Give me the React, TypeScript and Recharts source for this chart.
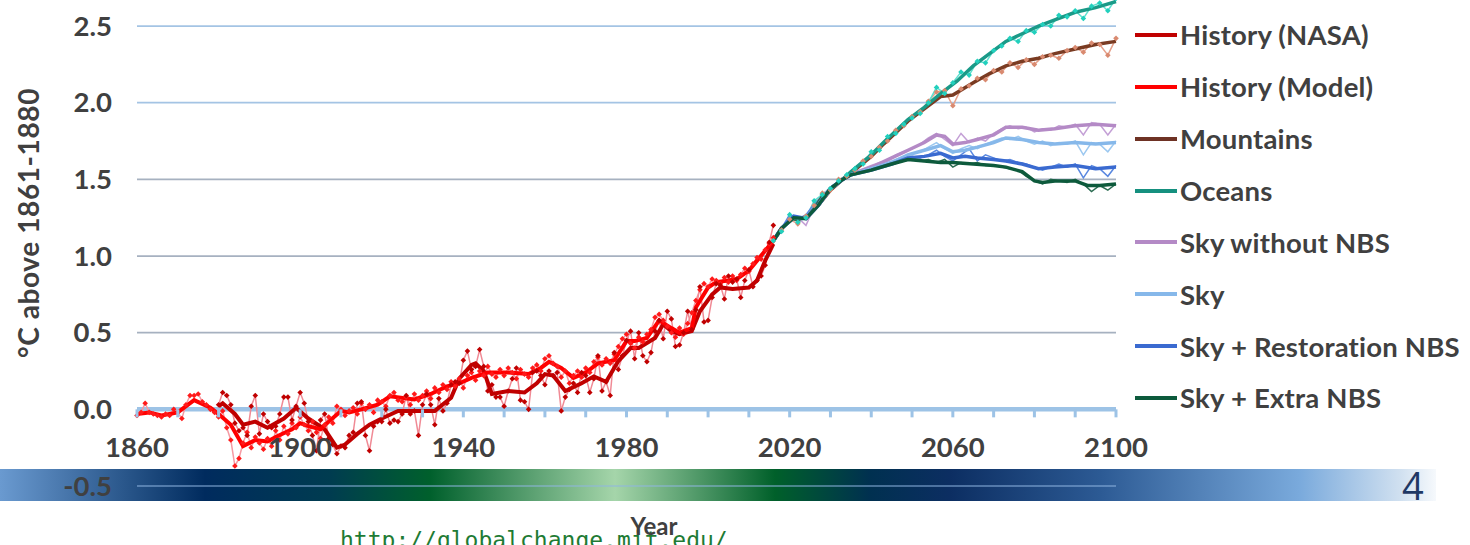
import React from 'react';
import { LineChart, Line, XAxis, YAxis, ReferenceLine, Label } from 'recharts';

// ---- data ----
type Pt = { year: number; v: number };

const annual = (start: number, step: number, values: number[]): Pt[] =>
  values.map((v, i) => ({ year: start + i * step, v }));
const pairs = (arr: [number, number][]): Pt[] => arr.map(([year, v]) => ({ year, v }));

const MAJOR_YEARS = [1860, 1900, 1940, 1980, 2020, 2060, 2100];
const MINOR_YEARS = [
  1860, 1870, 1880, 1890, 1900, 1910, 1920, 1930, 1940, 1950, 1960, 1970, 1980,
  1990, 2000, 2010, 2020, 2030, 2040, 2050, 2060, 2070, 2080, 2090, 2100,
];
const Y_TICKS = [-0.5, 0, 0.5, 1.0, 1.5, 2.0, 2.5];

// annual values, history
const nasaAnnual = [
  0.03, 0.11, 0.09, 0.03, -0.09, -0.14, -0.12, -0.17, 0.02, 0.09,
  -0.16, -0.03, -0.08, -0.12, -0.11, -0.03, 0.08, 0.08, -0.07, 0.02,
  0.11, 0.04, -0.08, -0.17, -0.27, -0.07, -0.03, -0.19, -0.23, -0.29,
  -0.24, -0.25, -0.17, -0.15, 0.04, 0.05, -0.17, -0.27, -0.11, -0.08,
  -0.08, 0.0, -0.09, -0.07, -0.08, -0.03, 0.09, -0.03, -0.01, -0.17,
  0.03, 0.1, 0.03, -0.1, 0.07, -0.01, 0.04, 0.16, 0.18, 0.17,
  0.32, 0.38, 0.26, 0.28, 0.39, 0.28, 0.12, 0.16, 0.08, 0.08,
  0.02, 0.12, 0.2, 0.27, 0.06, 0.05, 0.0, 0.24, 0.25, 0.22,
  0.16, 0.25, 0.22, 0.24, -0.01, 0.08, 0.13, 0.17, 0.11, 0.24,
  0.22, 0.11, 0.2, 0.35, 0.12, 0.18, 0.09, 0.37, 0.26, 0.35,
  0.45, 0.51, 0.33, 0.5, 0.35, 0.31, 0.37, 0.51, 0.58, 0.46,
  0.64, 0.59, 0.41, 0.42, 0.5, 0.64, 0.52, 0.65, 0.8, 0.57,
  0.58, 0.73, 0.82, 0.81, 0.72, 0.87, 0.83, 0.85, 0.73, 0.84,
  0.91, 0.8, 0.84, 0.87, 0.94, 1.09, 1.2,
];
const modelAnnual = [
  -0.04, -0.02, 0.04, -0.02, -0.03, -0.04, -0.05, -0.03, -0.04, 0.0,
  -0.02, -0.06, 0.03, 0.09, 0.09, 0.1, 0.05, 0.03, 0.0, -0.02,
  -0.05, -0.01, -0.12, -0.2, -0.37, -0.32, -0.22, -0.15, -0.25, -0.18,
  -0.22, -0.26, -0.19, -0.24, -0.14, -0.2, -0.11, -0.16, -0.09, -0.12,
  -0.05, -0.1, -0.14, -0.08, -0.15, -0.19, -0.1, -0.05, -0.09, 0.02,
  0.0, -0.04, -0.01, 0.01, -0.03, 0.04, 0.0, 0.03, -0.02, 0.06,
  0.05, 0.02, 0.09, 0.11, 0.06, 0.05, 0.08, 0.03, 0.1, 0.06,
  0.09, 0.12, 0.07, 0.14, 0.11, 0.16, 0.13, 0.18, 0.15, 0.2,
  0.14, 0.22, 0.24, 0.19, 0.25, 0.22, 0.28, 0.23, 0.21, 0.26,
  0.22, 0.27, 0.24, 0.2, 0.26, 0.23, 0.21, 0.27, 0.29, 0.25,
  0.33, 0.35, 0.3, 0.28, 0.21, 0.25, 0.17, 0.22, 0.25, 0.21,
  0.27, 0.24, 0.31, 0.34, 0.29, 0.33, 0.3, 0.36, 0.41, 0.46,
  0.49, 0.43, 0.4, 0.47, 0.44, 0.49, 0.52, 0.6, 0.62, 0.58,
  0.54, 0.5, 0.47, 0.53, 0.49, 0.56, 0.63, 0.71, 0.78, 0.82,
  0.8, 0.85, 0.84, 0.82, 0.86, 0.83, 0.87, 0.84, 0.88, 0.92,
  0.9, 0.95, 0.99, 0.98, 1.04, 1.08, 1.12,
];

// smoothed history
const nasaSmooth: [number, number][] = [
  [1880, 0.02], [1881, 0.04], [1884, -0.03], [1886, -0.1], [1889, -0.08], [1892, -0.12],
  [1896, -0.06], [1899, 0.01], [1902, -0.06], [1906, -0.13], [1909, -0.25], [1911, -0.23],
  [1914, -0.16], [1917, -0.1], [1920, -0.06], [1924, -0.01], [1929, -0.01], [1933, -0.01],
  [1937, 0.075], [1939, 0.2], [1942, 0.29], [1943, 0.3], [1945, 0.25], [1947, 0.1],
  [1951, 0.12], [1955, 0.11], [1958, 0.17], [1960, 0.23], [1962, 0.22], [1965, 0.12],
  [1969, 0.17], [1972, 0.215], [1975, 0.18], [1978, 0.315], [1981, 0.4], [1983, 0.4],
  [1987, 0.465], [1989, 0.555], [1991, 0.51], [1993, 0.49], [1996, 0.51], [1998, 0.64],
  [2001, 0.75], [2003, 0.795], [2006, 0.785], [2010, 0.795], [2012, 0.84], [2014, 0.97],
  [2016, 1.08],
];
const modelSmooth: [number, number][] = [
  [1860, -0.03], [1863, -0.02], [1866, -0.04], [1870, -0.02], [1874, 0.06], [1878, 0.01],
  [1880, -0.03], [1883, -0.1], [1886, -0.24], [1889, -0.2], [1892, -0.21], [1894, -0.18],
  [1898, -0.13], [1900, -0.09], [1902, -0.11], [1905, -0.13], [1907, -0.08], [1910, -0.01],
  [1912, -0.02], [1915, 0.0], [1919, 0.03], [1922, 0.085], [1928, 0.065], [1932, 0.1],
  [1936, 0.15], [1939, 0.17], [1942, 0.205], [1946, 0.24], [1951, 0.24], [1956, 0.23],
  [1959, 0.27], [1961, 0.31], [1964, 0.27], [1967, 0.205], [1970, 0.24], [1973, 0.3],
  [1977, 0.32], [1980, 0.445], [1982, 0.445], [1985, 0.465], [1988, 0.58], [1991, 0.53],
  [1993, 0.5], [1996, 0.53], [1997, 0.665], [2000, 0.795], [2002, 0.83], [2005, 0.84],
  [2007, 0.85], [2010, 0.905], [2012, 0.97], [2014, 1.035], [2016, 1.1],
];

// smoothed scenarios
const mountainsSmooth: [number, number][] = [
  [2016, 1.1], [2018, 1.18], [2021, 1.25], [2024, 1.245], [2027, 1.33], [2030, 1.43],
  [2033, 1.5], [2035, 1.54], [2040, 1.65], [2043, 1.73], [2049, 1.88], [2053, 1.96],
  [2057, 2.04], [2060, 2.05], [2065, 2.13], [2069, 2.19], [2073, 2.24], [2077, 2.27],
  [2081, 2.29], [2085, 2.32], [2090, 2.35], [2095, 2.38], [2100, 2.4],
];
const oceansSmooth: [number, number][] = [
  [2016, 1.1], [2018, 1.18], [2021, 1.25], [2024, 1.245], [2027, 1.33], [2030, 1.44],
  [2033, 1.5], [2035, 1.55], [2040, 1.66], [2043, 1.74], [2049, 1.89], [2053, 1.97],
  [2057, 2.06], [2061, 2.14], [2065, 2.24], [2069, 2.32], [2073, 2.4], [2077, 2.45],
  [2081, 2.5], [2085, 2.54], [2090, 2.59], [2095, 2.62], [2100, 2.66],
];
const skyNoNbsSmooth: [number, number][] = [
  [2016, 1.1], [2018, 1.18], [2021, 1.25], [2024, 1.245], [2027, 1.33], [2030, 1.44],
  [2033, 1.5], [2035, 1.53], [2038, 1.56], [2041, 1.59], [2045, 1.64], [2049, 1.69],
  [2053, 1.74], [2056, 1.79], [2058, 1.78], [2060, 1.73], [2063, 1.74], [2066, 1.76],
  [2070, 1.79], [2073, 1.84], [2077, 1.84], [2081, 1.82], [2085, 1.83], [2090, 1.85],
  [2095, 1.86], [2100, 1.85],
];
const skySmooth: [number, number][] = [
  [2016, 1.1], [2018, 1.18], [2021, 1.25], [2024, 1.245], [2027, 1.33], [2030, 1.44],
  [2033, 1.5], [2035, 1.53], [2040, 1.57], [2045, 1.61], [2049, 1.66], [2053, 1.69],
  [2057, 1.72], [2060, 1.68], [2063, 1.69], [2066, 1.71], [2070, 1.74], [2073, 1.77],
  [2077, 1.76], [2081, 1.74], [2085, 1.73], [2090, 1.74], [2095, 1.73], [2100, 1.74],
];
const restorationSmooth: [number, number][] = [
  [2016, 1.1], [2018, 1.18], [2021, 1.26], [2024, 1.245], [2027, 1.33], [2030, 1.44],
  [2033, 1.5], [2035, 1.53], [2040, 1.56], [2045, 1.6], [2049, 1.64], [2053, 1.65],
  [2057, 1.67], [2060, 1.64], [2063, 1.65], [2066, 1.64], [2070, 1.63], [2073, 1.62],
  [2077, 1.6], [2081, 1.57], [2085, 1.58], [2090, 1.59], [2095, 1.57], [2100, 1.58],
];
const extraSmooth: [number, number][] = [
  [2016, 1.1], [2018, 1.18], [2021, 1.25], [2024, 1.245], [2027, 1.33], [2030, 1.44],
  [2033, 1.5], [2035, 1.53], [2040, 1.56], [2045, 1.6], [2049, 1.63], [2053, 1.62],
  [2057, 1.61], [2060, 1.61], [2065, 1.6], [2070, 1.59], [2073, 1.58], [2077, 1.55],
  [2080, 1.49], [2082, 1.48], [2085, 1.49], [2090, 1.49], [2093, 1.46], [2096, 1.46],
  [2100, 1.47],
];

// noisy scenario runs, every 2 years from 2016
const mountainsRaw = [
  1.1, 1.17, 1.24, 1.21, 1.26, 1.33, 1.41, 1.43, 1.5, 1.52, 1.56, 1.62, 1.65, 1.71, 1.75,
  1.82, 1.85, 1.91, 1.94, 2.01, 2.07, 2.08, 1.98, 2.09, 2.11, 2.16, 2.15, 2.21, 2.2, 2.26,
  2.23, 2.28, 2.25, 2.3, 2.31, 2.29, 2.34, 2.36, 2.33, 2.39, 2.38, 2.31, 2.42,
];
const oceansRaw = [
  1.1, 1.16, 1.27, 1.22, 1.25, 1.36, 1.4, 1.44, 1.49, 1.53, 1.57, 1.6, 1.68, 1.69, 1.78,
  1.8, 1.86, 1.9, 1.93, 2.0, 2.1, 2.06, 2.13, 2.2, 2.18, 2.27, 2.26, 2.34, 2.37, 2.42,
  2.4, 2.47, 2.46, 2.51, 2.5, 2.57, 2.56, 2.6, 2.55, 2.63, 2.65, 2.6, 2.68,
];
const skyNoNbsRaw = [
  1.1, 1.19, 1.23, 1.25, 1.2, 1.32, 1.39, 1.44, 1.49, 1.52, 1.55, 1.57, 1.59, 1.61, 1.62,
  1.66, 1.68, 1.7, 1.73, 1.77, 1.8, 1.76, 1.72, 1.8, 1.74, 1.77, 1.75, 1.8, 1.83, 1.85,
  1.83, 1.84, 1.81, 1.83, 1.82, 1.85, 1.84, 1.86, 1.79, 1.87, 1.86, 1.79, 1.86,
];
const skyRaw = [
  1.1, 1.17, 1.25, 1.24, 1.26, 1.33, 1.4, 1.45, 1.48, 1.52, 1.54, 1.56, 1.58, 1.59, 1.61,
  1.63, 1.65, 1.67, 1.68, 1.71, 1.74, 1.7, 1.67, 1.7, 1.72, 1.7, 1.73, 1.75, 1.77, 1.76,
  1.78, 1.75, 1.73, 1.75, 1.72, 1.74, 1.73, 1.75, 1.66, 1.74, 1.73, 1.68, 1.75,
];
const restorationRaw = [
  1.1, 1.18, 1.27, 1.24, 1.27, 1.34, 1.39, 1.44, 1.48, 1.51, 1.54, 1.55, 1.57, 1.58, 1.59,
  1.62, 1.63, 1.65, 1.64, 1.66, 1.69, 1.65, 1.62, 1.66, 1.7, 1.62, 1.66, 1.64, 1.62, 1.63,
  1.61, 1.6, 1.58, 1.56, 1.58, 1.6, 1.58, 1.6, 1.51, 1.59, 1.57, 1.52, 1.59,
];
const extraRaw = [
  1.1, 1.17, 1.24, 1.23, 1.25, 1.32, 1.4, 1.43, 1.49, 1.52, 1.54, 1.56, 1.57, 1.58, 1.6,
  1.61, 1.62, 1.63, 1.62, 1.63, 1.61, 1.63, 1.58, 1.61, 1.6, 1.61, 1.59, 1.59, 1.58, 1.57,
  1.56, 1.52, 1.49, 1.47, 1.5, 1.49, 1.48, 1.5, 1.47, 1.42, 1.46, 1.43, 1.47,
];

const LEGEND = [
  { name: 'History (NASA)', color: '#c00000' },
  { name: 'History (Model)', color: '#ff0000' },
  { name: 'Mountains', color: '#6e3224' },
  { name: 'Oceans', color: '#15907f' },
  { name: 'Sky without NBS', color: '#b48ac6' },
  { name: 'Sky', color: '#86b8ea' },
  { name: 'Sky + Restoration NBS', color: '#3a6ad0' },
  { name: 'Sky + Extra NBS', color: '#0d5a3c' },
];

// ---- layout ----
const W = 1470;
const H = 545;
const PLOT_LEFT = 137;
const PLOT_RIGHT = 1116;
const PLOT_H = 486;
const Y_MIN = -0.5;
const Y_MAX = 2.67;
const ZERO_OFFSET = (PLOT_H * (0 - Y_MIN)) / (Y_MAX - Y_MIN);

const FONT = 'Lato, "Open Sans", sans-serif';
const TEXT = '#404040';
const AXIS_BLUE = '#9dc3e6';

const YearTick = (props: any) => {
  const { x, y, payload } = props;
  const axisY = y - ZERO_OFFSET;
  return (
    <g>
      <line x1={x} x2={x} y1={axisY} y2={axisY + 8} stroke={AXIS_BLUE} strokeWidth={3} />
      {MAJOR_YEARS.includes(payload.value) && (
        <text x={x} y={y - 29} textAnchor="middle" fontFamily={FONT} fontWeight={700} fontSize={27.5} fill={TEXT}>
          {payload.value}
        </text>
      )}
    </g>
  );
};

const diamond = (color: string, r: number) => (p: any) => {
  const { cx, cy, index } = p;
  if (cx == null || cy == null) return <g key={index} />;
  return (
    <path key={index} d={`M${cx},${cy - r}L${cx + r},${cy}L${cx},${cy + r}L${cx - r},${cy}Z`} fill={color} />
  );
};

const gridColor = (v: number) => (v >= 2 ? '#a4c4e4' : '#a6b1c0');

export default function App() {
  return (
    <div style={{ position: 'absolute', left: 0, top: 0, width: W, height: H, overflow: 'hidden', background: '#fff' }}>
      {/* slide band */}
      <div
        style={{
          position: 'absolute',
          left: 0,
          top: 469,
          width: 1436,
          height: 32,
          background:
            'linear-gradient(to right, #6a9ad0 0px, #002b5e 205px, #003c50 330px, #00602c 430px, #a5d5aa 615px, #00602a 775px, #003050 870px, #0c2e62 950px, #2c5a94 1100px, #7aaadc 1300px, #d0e0f0 1400px, #f6f9fc 1436px)',
        }}
      />
      <div
        style={{
          position: 'absolute',
          left: 1402,
          top: 464,
          fontFamily: '"Open Sans", sans-serif',
          fontSize: 38,
          color: '#1f3864',
          lineHeight: '42px',
        }}
      >
        4
      </div>
      <div
        style={{
          position: 'absolute',
          left: 340,
          top: 526,
          fontFamily: '"DejaVu Sans Mono", monospace',
          fontSize: 23,
          color: '#1e7b34',
          lineHeight: '28px',
          whiteSpace: 'nowrap',
        }}
      >
        http://globalchange.mit.edu/
      </div>

      <div style={{ position: 'absolute', left: 0, top: 0 }}>
        <LineChart width={W} height={H} margin={{ top: 0, right: W - PLOT_RIGHT, bottom: 0, left: 0 }}>
          <XAxis
            dataKey="year"
            type="number"
            domain={[1860, 2100]}
            ticks={MINOR_YEARS}
            interval={0}
            height={H - PLOT_H}
            axisLine={false}
            tickLine={false}
            tickSize={0}
            tickMargin={0}
            tick={<YearTick />}
          >
            <Label
              content={() => (
                <text x={654} y={535} textAnchor="middle" fontFamily={FONT} fontWeight={700} fontSize={24} fill={TEXT}>
                  Year
                </text>
              )}
            />
          </XAxis>
          <YAxis
            type="number"
            domain={[Y_MIN, Y_MAX]}
            allowDataOverflow
            ticks={Y_TICKS}
            interval={0}
            width={PLOT_LEFT}
            axisLine={false}
            tickLine={false}
            tickSize={0}
            tickMargin={25}
            tickFormatter={(v: number) => v.toFixed(1)}
            tick={{ fontFamily: FONT, fontWeight: 700, fontSize: 27.5, fill: TEXT }}
          >
            <Label
              content={() => (
                <text
                  x={39}
                  y={223}
                  transform="rotate(-90 39 223)"
                  textAnchor="middle"
                  fontFamily={FONT}
                  fontWeight={700}
                  fontSize={28}
                  letterSpacing={0.6}
                  fill={TEXT}
                >
                  °C above 1861-1880
                </text>
              )}
            />
          </YAxis>

          {[0.5, 1.0, 1.5, 2.0, 2.5].map((v) => (
            <ReferenceLine key={v} y={v} stroke={gridColor(v)} strokeWidth={1.8} />
          ))}
          <ReferenceLine y={-0.5} stroke="#8fb6e2" strokeWidth={1.2} />
          <ReferenceLine y={0} stroke={AXIS_BLUE} strokeWidth={4.5} />

          {/* annual history with markers */}
          <Line data={annual(1860, 1, modelAnnual)} dataKey="v" stroke="#f59aa3" strokeWidth={1.5}
            dot={diamond('#ff1a1a', 2.8)} isAnimationActive={false} />
          <Line data={annual(1880, 1, nasaAnnual)} dataKey="v" stroke="#f08a95" strokeWidth={1.5}
            dot={diamond('#c00000', 2.8)} isAnimationActive={false} />
          <Line data={pairs(nasaSmooth)} dataKey="v" stroke="#c00000" strokeWidth={4} dot={false} isAnimationActive={false} />
          <Line data={pairs(modelSmooth)} dataKey="v" stroke="#ff0000" strokeWidth={4} dot={false} isAnimationActive={false} />

          {/* scenario runs */}
          <Line data={annual(2016, 2, mountainsRaw)} dataKey="v" stroke="#e6a08a" strokeWidth={1.5}
            dot={diamond('#d98a70', 2.8)} isAnimationActive={false} />
          <Line data={annual(2016, 2, oceansRaw)} dataKey="v" stroke="#5ee0d0" strokeWidth={1.5}
            dot={diamond('#22d0bd', 2.8)} isAnimationActive={false} />
          <Line data={annual(2016, 2, skyNoNbsRaw)} dataKey="v" stroke="#c4a0d6" strokeWidth={1.5} dot={false} isAnimationActive={false} />
          <Line data={annual(2016, 2, skyRaw)} dataKey="v" stroke="#9cc8f0" strokeWidth={1.5} dot={false} isAnimationActive={false} />
          <Line data={annual(2016, 2, restorationRaw)} dataKey="v" stroke="#5a88e0" strokeWidth={1.5} dot={false} isAnimationActive={false} />
          <Line data={annual(2016, 2, extraRaw)} dataKey="v" stroke="#2c6c52" strokeWidth={1.5} dot={false} isAnimationActive={false} />

          <Line data={pairs(mountainsSmooth)} dataKey="v" stroke="#7a3b22" strokeWidth={3.5} dot={false} isAnimationActive={false} />
          <Line data={pairs(oceansSmooth)} dataKey="v" stroke="#1a9a88" strokeWidth={3.5} dot={false} isAnimationActive={false} />
          <Line data={pairs(skyNoNbsSmooth)} dataKey="v" stroke="#b48ac6" strokeWidth={3.5} dot={false} isAnimationActive={false} />
          <Line data={pairs(skySmooth)} dataKey="v" stroke="#86b8ea" strokeWidth={3.5} dot={false} isAnimationActive={false} />
          <Line data={pairs(restorationSmooth)} dataKey="v" stroke="#3a6ad0" strokeWidth={3.5} dot={false} isAnimationActive={false} />
          <Line data={pairs(extraSmooth)} dataKey="v" stroke="#0d5a3c" strokeWidth={3.5} dot={false} isAnimationActive={false} />
        </LineChart>
      </div>

      {/* legend */}
      <div style={{ position: 'absolute', left: 1135, top: 9 }}>
        {LEGEND.map((item) => (
          <div key={item.name} style={{ display: 'flex', alignItems: 'center', height: 51.86 }}>
            <div style={{ width: 42, height: 4, background: item.color, marginRight: 3 }} />
            <span style={{ fontFamily: FONT, fontWeight: 700, fontSize: 27.5, color: TEXT, whiteSpace: 'nowrap', letterSpacing: 0.2 }}>
              {item.name}
            </span>
          </div>
        ))}
      </div>
    </div>
  );
}
